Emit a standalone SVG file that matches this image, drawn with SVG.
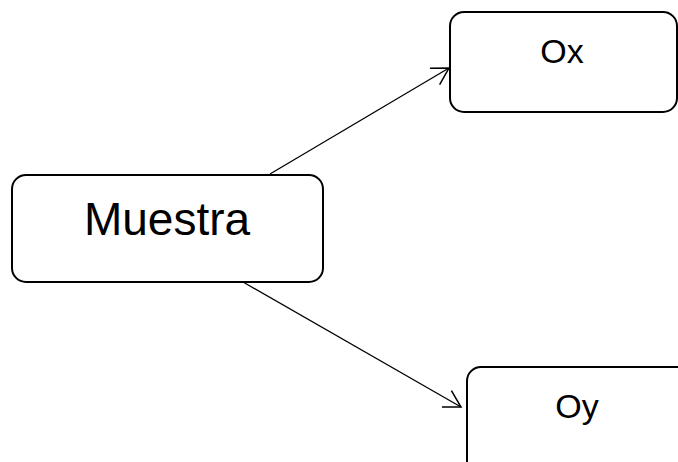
<svg xmlns="http://www.w3.org/2000/svg" width="678" height="462" viewBox="0 0 678 462">
<style>
.box{fill:#fff;stroke:#000;stroke-width:2}
.lbl{font-family:"Liberation Sans",Arial,sans-serif;fill:#000;text-anchor:middle}
.edge{stroke:#000;stroke-width:1.3;fill:none}
</style>
<defs>
<marker id="arr" markerUnits="userSpaceOnUse" markerWidth="40" markerHeight="40" viewBox="-20 -20 40 40" refX="0" refY="0" orient="auto" overflow="visible">
<path d="M-16.5,-9.5 L0,0 L-16.5,9.5" fill="none" stroke="#000" stroke-width="1.5"/>
</marker>
</defs>
<rect width="678" height="462" fill="#fff"/>
<g id="connectors">
<line class="edge" x1="270" y1="174" x2="449" y2="68" marker-end="url(#arr)"/>
<line class="edge" x1="243" y1="282" x2="461" y2="407" marker-end="url(#arr)"/>
</g>
<g id="muestra">
<rect class="box" x="12" y="175" width="311" height="107" rx="14"/>
<text class="lbl" x="167" y="235" font-size="46">Muestra</text>
</g>
<g id="ox">
<rect class="box" x="450" y="12" width="227" height="100" rx="14"/>
<text class="lbl" x="562" y="63" font-size="34">Ox</text>
</g>
<g id="oy">
<rect class="box" x="467" y="367" width="227" height="110" rx="14"/>
<text class="lbl" x="577" y="418" font-size="34">Oy</text>
</g>
</svg>
